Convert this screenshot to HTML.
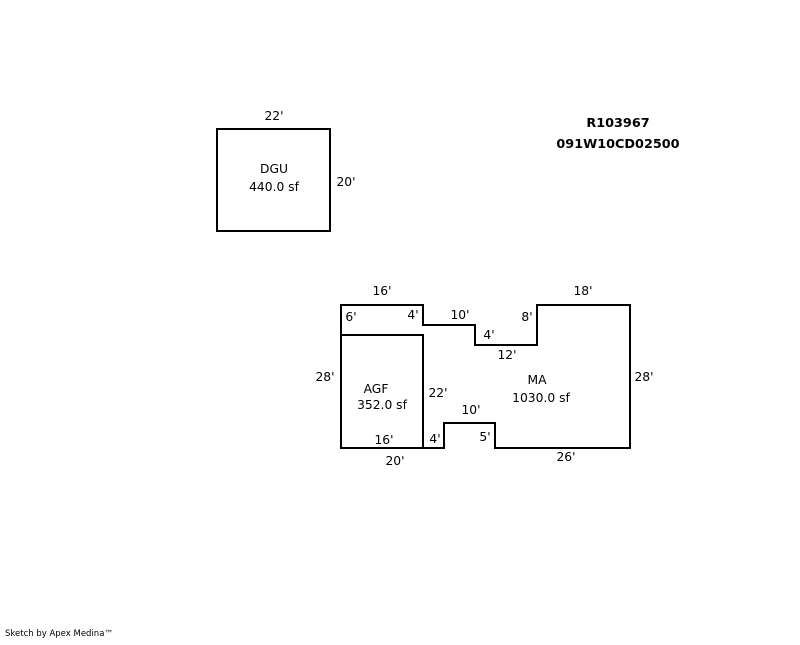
<!DOCTYPE html>
<html><head><style>
body{margin:0;background:#fff;width:800px;height:640px;overflow:hidden}
svg text{font-family:"DejaVu Sans","Liberation Sans",sans-serif;font-size:12.3px;fill:#000}
</style></head><body>
<svg width="800" height="640" viewBox="0 0 800 640" xmlns="http://www.w3.org/2000/svg">
<g fill="none" stroke="#000" stroke-width="2">
<rect x="217" y="129" width="113" height="102"/>
<polygon points="341,305 423,305 423,325 475,325 475,345 537,345 537,305 630,305 630,448 495,448 495,423 444,423 444,448 341,448"/>
<polyline points="341,335 423,335 423,448"/>
</g>
<g text-anchor="middle">
<text x="274" y="120">22'</text>
<text x="274" y="173">DGU</text>
<text x="274" y="191">440.0 sf</text>
<text x="346" y="186">20'</text>
<text x="618" y="127" style="font-weight:bold;font-size:12.8px">R103967</text>
<text x="618" y="148" style="font-weight:bold;font-size:12.8px">091W10CD02500</text>
<text x="382" y="295">16'</text>
<text x="583" y="295">18'</text>
<text x="351" y="321">6'</text>
<text x="413" y="319">4'</text>
<text x="460" y="319">10'</text>
<text x="489" y="339">4'</text>
<text x="527" y="321">8'</text>
<text x="507" y="359">12'</text>
<text x="325" y="381">28'</text>
<text x="644" y="381">28'</text>
<text x="537" y="384">MA</text>
<text x="541" y="402">1030.0 sf</text>
<text x="376" y="393">AGF</text>
<text x="382" y="409">352.0 sf</text>
<text x="438" y="397">22'</text>
<text x="471" y="414">10'</text>
<text x="384" y="444">16'</text>
<text x="435" y="443">4'</text>
<text x="485" y="441">5'</text>
<text x="395" y="465">20'</text>
<text x="566" y="461">26'</text>
</g>
<text x="5" y="636" style="font-size:8.5px">Sketch by Apex Medina™</text>
</svg>
</body></html>
